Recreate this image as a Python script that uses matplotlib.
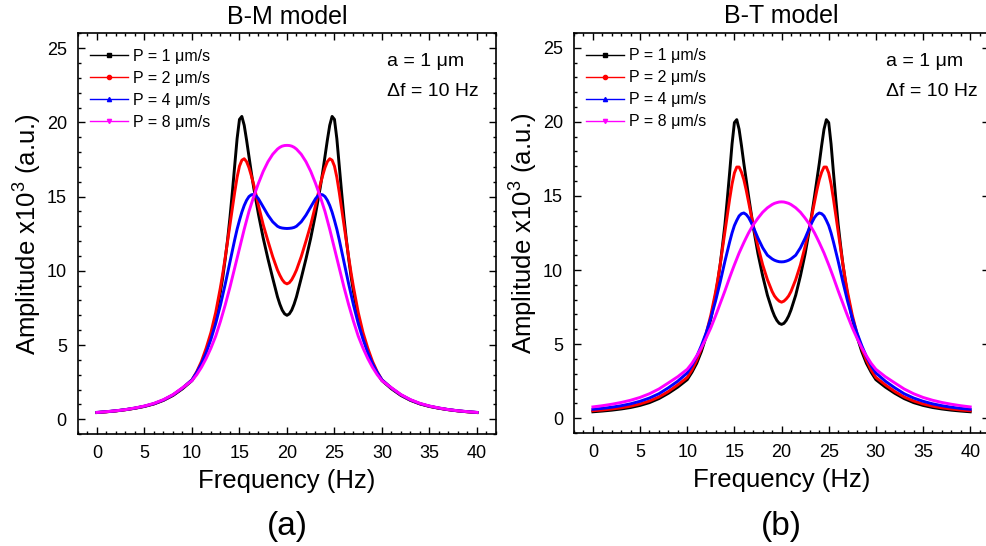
import matplotlib.pyplot as plt
from matplotlib.lines import Line2D
from matplotlib.ticker import MultipleLocator

plt.rcParams['font.family'] = ['Liberation Sans', 'DejaVu Sans']
plt.rcParams['mathtext.fontset'] = 'custom'
plt.rcParams['mathtext.rm'] = 'Liberation Sans'

# frequency grid (Hz), finer around the peaks
freq = [0, 1, 2, 3, 4, 5, 6, 7, 8, 9,
        10, 10.5, 11, 11.5, 12, 12.5,
        13, 13.25, 13.5, 13.75, 14, 14.25, 14.5, 14.75, 15, 15.25, 15.5, 15.75, 16, 16.25, 16.5, 16.75, 17,
        17.5, 18, 18.5,
        19, 19.25, 19.5, 19.75, 20,
        20.25, 20.5, 20.75, 21,
        21.5, 22, 22.5,
        23, 23.25, 23.5, 23.75, 24, 24.25, 24.5, 24.75, 25, 25.25, 25.5, 25.75, 26, 26.25, 26.5, 26.75, 27,
        27.5, 28, 28.5, 29, 29.5, 30,
        31, 32, 33, 34, 35, 36, 37, 38, 39, 40]

# B-M model, amplitude x10^3
bm_p1 = [0.45, 0.50, 0.56, 0.64, 0.74, 0.86, 1.03, 1.27, 1.60, 2.05,
         2.60, 3.10, 3.75, 4.60, 5.60, 6.90,
         8.60, 9.60, 10.80, 12.10, 13.60, 15.30, 17.10, 18.90, 20.20, 20.40, 19.80, 18.80, 17.70, 16.60, 15.60, 14.70, 13.80,
         12.20, 10.80, 9.50,
         8.25, 7.75, 7.35, 7.10, 7.00,
         7.10, 7.35, 7.75, 8.25,
         9.50, 10.80, 12.20,
         13.80, 14.70, 15.60, 16.60, 17.70, 18.80, 19.80, 20.40, 20.20, 18.90, 17.10, 15.30, 13.60, 12.10, 10.80, 9.60, 8.60,
         6.90, 5.60, 4.60, 3.75, 3.10, 2.60,
         2.05, 1.60, 1.27, 1.03, 0.86, 0.74, 0.64, 0.56, 0.50, 0.45]
bm_p2 = [0.45, 0.50, 0.56, 0.64, 0.74, 0.87, 1.04, 1.29, 1.63, 2.09,
         2.65, 3.20, 3.90, 4.80, 5.85, 7.20,
         8.90, 9.85, 10.90, 12.00, 13.10, 14.20, 15.30, 16.30, 17.05, 17.45, 17.55, 17.35, 16.95, 16.40, 15.80, 15.10, 14.40,
         13.10, 12.00, 10.95,
         10.05, 9.70, 9.40, 9.20, 9.12,
         9.20, 9.40, 9.70, 10.05,
         10.95, 12.00, 13.10,
         14.40, 15.10, 15.80, 16.40, 16.95, 17.35, 17.55, 17.45, 17.05, 16.30, 15.30, 14.20, 13.10, 12.00, 10.90, 9.85, 8.90,
         7.20, 5.85, 4.80, 3.90, 3.20, 2.65,
         2.09, 1.63, 1.29, 1.04, 0.87, 0.74, 0.64, 0.56, 0.50, 0.45]
bm_p4 = [0.46, 0.51, 0.57, 0.65, 0.75, 0.88, 1.05, 1.30, 1.64, 2.10,
         2.65, 3.15, 3.75, 4.50, 5.40, 6.45,
         7.70, 8.40, 9.10, 9.85, 10.60, 11.35, 12.10, 12.80, 13.40, 13.95, 14.40, 14.75, 15.00, 15.12, 15.15, 15.05, 14.85,
         14.30, 13.75, 13.30,
         13.00, 12.92, 12.88, 12.86, 12.85,
         12.86, 12.88, 12.92, 13.00,
         13.30, 13.75, 14.30,
         14.85, 15.05, 15.15, 15.12, 15.00, 14.75, 14.40, 13.95, 13.40, 12.80, 12.10, 11.35, 10.60, 9.85, 9.10, 8.40, 7.70,
         6.45, 5.40, 4.50, 3.75, 3.15, 2.65,
         2.10, 1.64, 1.30, 1.05, 0.88, 0.75, 0.65, 0.57, 0.51, 0.46]
bm_p8 = [0.46, 0.51, 0.57, 0.65, 0.76, 0.89, 1.07, 1.32, 1.66, 2.12,
         2.60, 3.00, 3.50, 4.10, 4.80, 5.60,
         6.60, 7.15, 7.70, 8.30, 8.90, 9.55, 10.20, 10.85, 11.50, 12.15, 12.80, 13.40, 14.00, 14.50, 15.00, 15.45, 15.90,
         16.70, 17.35, 17.85,
         18.20, 18.32, 18.40, 18.44, 18.45,
         18.44, 18.40, 18.32, 18.20,
         17.85, 17.35, 16.70,
         15.90, 15.45, 15.00, 14.50, 14.00, 13.40, 12.80, 12.15, 11.50, 10.85, 10.20, 9.55, 8.90, 8.30, 7.70, 7.15, 6.60,
         5.60, 4.80, 4.10, 3.50, 3.00, 2.60,
         2.12, 1.66, 1.32, 1.07, 0.89, 0.76, 0.65, 0.57, 0.51, 0.46]

# B-T model, amplitude x10^3
bt_p1 = [0.43, 0.48, 0.54, 0.62, 0.72, 0.86, 1.05, 1.32, 1.68, 2.10,
         2.60, 3.10, 3.70, 4.50, 5.50, 6.70,
         8.30, 9.30, 10.40, 11.70, 13.10, 14.80, 16.60, 18.50, 19.95, 20.15, 19.50, 18.40, 17.20, 16.10, 15.00, 13.95, 12.90,
         11.10, 9.60, 8.30,
         7.30, 6.90, 6.60, 6.40, 6.33,
         6.40, 6.60, 6.90, 7.30,
         8.30, 9.60, 11.10,
         12.90, 13.95, 15.00, 16.10, 17.20, 18.40, 19.50, 20.15, 19.95, 18.50, 16.60, 14.80, 13.10, 11.70, 10.40, 9.30, 8.30,
         6.70, 5.50, 4.50, 3.70, 3.10, 2.60,
         2.10, 1.68, 1.32, 1.05, 0.86, 0.72, 0.62, 0.54, 0.48, 0.43]
bt_p2 = [0.50, 0.55, 0.62, 0.70, 0.81, 0.96, 1.16, 1.43, 1.80, 2.25,
         2.75, 3.25, 3.90, 4.70, 5.70, 6.95,
         8.50, 9.40, 10.40, 11.50, 12.60, 13.70, 14.80, 15.80, 16.55, 16.95, 16.95, 16.60, 16.10, 15.40, 14.60, 13.80, 13.00,
         11.60, 10.35, 9.35,
         8.55, 8.25, 8.05, 7.90, 7.83,
         7.90, 8.05, 8.25, 8.55,
         9.35, 10.35, 11.60,
         13.00, 13.80, 14.60, 15.40, 16.10, 16.60, 16.95, 16.95, 16.55, 15.80, 14.80, 13.70, 12.60, 11.50, 10.40, 9.40, 8.50,
         6.95, 5.70, 4.70, 3.90, 3.25, 2.75,
         2.25, 1.80, 1.43, 1.16, 0.96, 0.81, 0.70, 0.62, 0.55, 0.50]
bt_p4 = [0.60, 0.66, 0.74, 0.84, 0.97, 1.14, 1.36, 1.65, 2.05, 2.50,
         3.05, 3.55, 4.15, 4.90, 5.75, 6.75,
         7.90, 8.55, 9.20, 9.90, 10.60, 11.25, 11.90, 12.50, 13.00, 13.35, 13.65, 13.80, 13.85, 13.75, 13.55, 13.25, 12.90,
         12.15, 11.50, 11.00,
         10.75, 10.66, 10.60, 10.56, 10.55,
         10.56, 10.60, 10.66, 10.75,
         11.00, 11.50, 12.15,
         12.90, 13.25, 13.55, 13.75, 13.85, 13.80, 13.65, 13.35, 13.00, 12.50, 11.90, 11.25, 10.60, 9.90, 9.20, 8.55, 7.90,
         6.75, 5.75, 4.90, 4.15, 3.55, 3.05,
         2.50, 2.05, 1.65, 1.36, 1.14, 0.97, 0.84, 0.74, 0.66, 0.60]
bt_p8 = [0.76, 0.84, 0.94, 1.06, 1.21, 1.40, 1.65, 1.97, 2.38, 2.80,
         3.30, 3.70, 4.20, 4.75, 5.40, 6.10,
         6.90, 7.32, 7.75, 8.17, 8.60, 9.05, 9.50, 9.93, 10.35, 10.75, 11.15, 11.50, 11.85, 12.18, 12.50, 12.78, 13.05,
         13.50, 13.90, 14.20,
         14.42, 14.50, 14.55, 14.59, 14.60,
         14.59, 14.55, 14.50, 14.42,
         14.20, 13.90, 13.50,
         13.05, 12.78, 12.50, 12.18, 11.85, 11.50, 11.15, 10.75, 10.35, 9.93, 9.50, 9.05, 8.60, 8.17, 7.75, 7.32, 6.90,
         6.10, 5.40, 4.75, 4.20, 3.70, 3.30,
         2.80, 2.38, 1.97, 1.65, 1.40, 1.21, 1.06, 0.94, 0.84, 0.76]

labels = ['P = 1 μm/s', 'P = 2 μm/s', 'P = 4 μm/s', 'P = 8 μm/s']
colors = ['#000000', '#ff0000', '#0000ff', '#ff00ff']
markers = ['s', 'o', '^', 'v']


def draw_panel(ax, series, title, tag, note_x):
    for y, c in zip(series, colors):
        ax.plot(freq, y, color=c, lw=2.1)

    ax.set_xlim(-2, 42)
    ax.set_ylim(-1, 26)
    ax.xaxis.set_major_locator(MultipleLocator(5))
    ax.xaxis.set_minor_locator(MultipleLocator(1))
    ax.yaxis.set_major_locator(MultipleLocator(5))
    ax.yaxis.set_minor_locator(MultipleLocator(1))
    ax.tick_params(which='both', direction='in', top=True, right=True,
                   labelsize=13, width=1.0)
    ax.tick_params(which='major', length=5, pad=8)
    ax.tick_params(which='minor', length=2.5)
    for s in ax.spines.values():
        s.set_linewidth(1.2)

    ax.set_title(title, fontsize=18, pad=7)
    ax.set_xlabel('Frequency (Hz)', fontsize=18.5, labelpad=5)
    ax.set_ylabel('Amplitude x10$^{3}$ (a.u.)', fontsize=18.5, labelpad=3)

    handles = [Line2D([], [], color=c, lw=1.0, marker=m, markersize=3)
               for c, m in zip(colors, markers)]
    ax.legend(handles, labels, loc='upper left', bbox_to_anchor=(0.029, 0.962),
              frameon=False, fontsize=11.5, handlelength=2.4,
              handletextpad=0.3, labelspacing=0.44, borderpad=0,
              borderaxespad=0)

    ax.text(note_x, 24.1, 'a = 1 μm', fontsize=14, va='center', ha='left')
    ax.text(note_x, 22.05, 'Δf = 10 Hz', fontsize=14, va='center', ha='left')

    pos = ax.get_position()
    fig.text((pos.x0 + pos.x1) / 2, 0.036, tag, fontsize=24,
             ha='center', va='center')


fig = plt.figure(figsize=(9.87, 5.46), dpi=100)
ax1 = fig.add_axes([0.079, 0.205, 0.4235, 0.734])
ax2 = fig.add_axes([0.5816, 0.207, 0.4205, 0.7326])

draw_panel(ax1, [bm_p1, bm_p2, bm_p4, bm_p8], 'B-M model', '(a)', 30.5)
draw_panel(ax2, [bt_p1, bt_p2, bt_p4, bt_p8], 'B-T model', '(b)', 31.1)

fig.savefig('out.png', dpi=100)
